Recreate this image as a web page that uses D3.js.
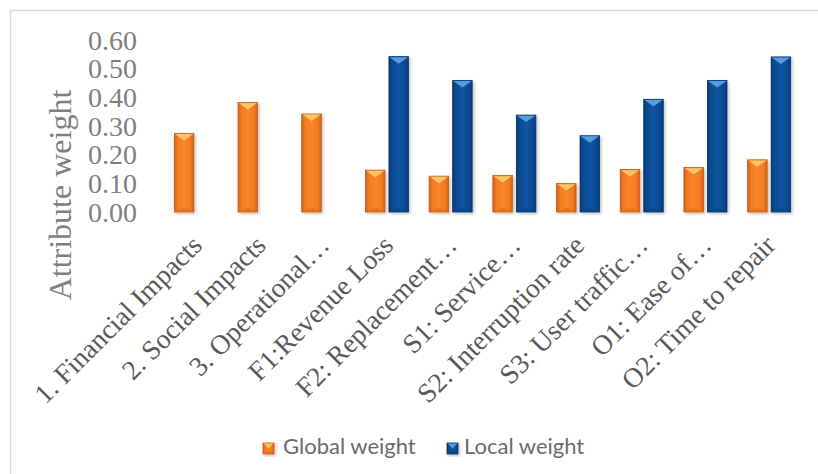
<!DOCTYPE html>
<html>
<head>
<meta charset="utf-8">
<script src="https://cdn.jsdelivr.net/npm/d3@7"></script>
<style>
  html, body { margin: 0; padding: 0; background: #fff; }
  svg { display: block; }
</style>
</head>
<body>
<svg id="chart" width="818" height="474"></svg>
<script>
// Attribute weights per criterion
const categories = [
  "1. Financial Impacts", "2. Social Impacts", "3. Operational…",
  "F1:Revenue Loss", "F2: Replacement…", "S1: Service…",
  "S2: Interruption rate", "S3: User traffic…", "O1: Ease of…",
  "O2: Time to repair"
];
const seriesNames = ["Global weight", "Local weight"];
const globalWeight = [0.274, 0.382, 0.342, 0.146, 0.125, 0.127, 0.099, 0.148, 0.155, 0.182];
const localWeight = [null, null, null, 0.542, 0.459, 0.338, 0.266, 0.393, 0.459, 0.541];
const yTicks = [0, 0.1, 0.2, 0.3, 0.4, 0.5, 0.6];

const svg = d3.select("#chart");
const W = 818, H = 474;
const serif = "'Liberation Serif', 'Times New Roman', Times, serif";

// chart frame
svg.append("rect")
  .attr("x", 10.5).attr("y", 10.5)
  .attr("width", W + 10).attr("height", H + 10)
  .attr("fill", "#fff").attr("stroke", "#d9d9d9").attr("stroke-width", 1.5);

const plot = { left: 164, right: 801, top: 40, bottom: 212 };

const x0 = d3.scaleBand().domain(categories).range([plot.left, plot.right]);
const x1 = d3.scaleBand().domain(seriesNames).range([0, x0.bandwidth()])
  .paddingInner(0.17).paddingOuter(0.44);
const y = d3.scaleLinear().domain([0, 0.6]).range([plot.bottom, plot.top]);

const defs = svg.append("defs");

const palettes = {
  "Global weight": { edge: "#d2621a", mid: "#f8862a", main: "#f47b20", tri: "#ffc36e", stroke: "#c65a14", foot: "#e06d1c" },
  "Local weight":  { edge: "#073a78", mid: "#0d55a3", main: "#0b4a92", tri: "#5a9ae0", stroke: "#06346a", foot: "#0a437f" }
};

Object.entries(palettes).forEach(([name, p], i) => {
  const g = defs.append("linearGradient").attr("id", "grad" + i)
    .attr("x1", "0%").attr("x2", "100%").attr("y1", "0%").attr("y2", "0%");
  g.append("stop").attr("offset", "0%").attr("stop-color", p.edge);
  g.append("stop").attr("offset", "18%").attr("stop-color", p.main);
  g.append("stop").attr("offset", "50%").attr("stop-color", p.mid);
  g.append("stop").attr("offset", "82%").attr("stop-color", p.main);
  g.append("stop").attr("offset", "100%").attr("stop-color", p.edge);
  p.fill = "url(#grad" + i + ")";
});

const shadow = defs.append("filter").attr("id", "shadow")
  .attr("x", "-30%").attr("y", "-10%").attr("width", "170%").attr("height", "130%");
shadow.append("feDropShadow").attr("dx", 1.5).attr("dy", 1.5)
  .attr("stdDeviation", 1.5).attr("flood-color", "#000").attr("flood-opacity", 0.25);

const lineShadow = defs.append("filter").attr("id", "lshadow")
  .attr("x", "0%").attr("y", "-200%").attr("width", "100%").attr("height", "500%");
lineShadow.append("feDropShadow").attr("dx", 0).attr("dy", 1)
  .attr("stdDeviation", 0.6).attr("flood-color", "#000").attr("flood-opacity", 0.15);

// gridlines
svg.append("g").selectAll("line").data(yTicks).join("line")
  .attr("x1", plot.left).attr("x2", plot.right)
  .attr("y1", d => Math.round(y(d)) + 0.5).attr("y2", d => Math.round(y(d)) + 0.5)
  .attr("stroke", "#d9d9d9")
  .attr("stroke-width", d => d === 0 ? 2 : 1.5)
  .attr("filter", "url(#lshadow)");

// y axis labels
const yAxis = d3.axisLeft(y).tickValues(yTicks).tickFormat(d3.format(".2f")).tickSize(0).tickPadding(0);
const yg = svg.append("g").attr("transform", "translate(137,0)").call(yAxis)
  .attr("font-family", serif).attr("font-size", 28);
yg.select(".domain").remove();
yg.selectAll("text")
  .style("font-family", serif)
  .attr("fill", "#808080").attr("dy", "0.33em");

// y axis title
svg.append("text")
  .attr("transform", "translate(71,195) rotate(-90)")
  .attr("text-anchor", "middle")
  .style("font-family", serif)
  .attr("font-size", 32).attr("fill", "#808080")
  .text("Attribute weight");

// bars with a bevelled top
function drawBar(g, bx, by, bw, bh, p) {
  g.append("rect").attr("x", bx).attr("y", by).attr("width", bw).attr("height", bh)
    .attr("fill", p.fill).attr("stroke", p.stroke).attr("stroke-width", 0.8)
    .attr("filter", "url(#shadow)");
  const th = Math.min(7, bh / 2);
  g.append("path")
    .attr("d", `M${bx + 0.6},${by + 0.6} L${bx + bw - 0.6},${by + 0.6} L${bx + bw / 2},${by + th} Z`)
    .attr("fill", p.tri);
  const fh = Math.min(4, bh / 3);
  g.append("path")
    .attr("d", `M${bx + 0.6},${by + bh - 0.4} L${bx + bw - 0.6},${by + bh - 0.4} L${bx + bw / 2},${by + bh - fh} Z`)
    .attr("fill", p.foot).attr("opacity", 0.8);
}

const barData = categories.map((c, i) => ({
  cat: c,
  values: [
    { s: "Global weight", v: globalWeight[i] },
    { s: "Local weight", v: localWeight[i] }
  ]
}));

const bars = svg.append("g");
barData.forEach(d => {
  d.values.forEach(e => {
    if (e.v == null) return;
    const bx = x0(d.cat) + x1(e.s);
    const by = y(e.v);
    drawBar(bars, bx, by, x1.bandwidth(), y(0) - by, palettes[e.s]);
  });
});

// category labels
const xAxis = d3.axisBottom(x0).tickSize(0).tickPadding(0);
const xg = svg.append("g").attr("transform", `translate(0,${plot.bottom})`).call(xAxis)
  .attr("font-family", serif).attr("font-size", 27.5);
xg.select(".domain").remove();
xg.selectAll("text")
  .style("font-family", serif)
  .attr("fill", "#595959")
  .attr("text-anchor", "end")
  .attr("y", 0).attr("dy", "0.35em")
  .attr("transform", "translate(1,28) rotate(-45)");

// legend
const legend = svg.append("g");
const legendItems = [
  { s: "Global weight", bx: 263, tx: 283 },
  { s: "Local weight", bx: 447, tx: 464 }
];
legendItems.forEach(it => {
  drawBar(legend, it.bx, 443, 11, 11, palettes[it.s]);
  legend.append("text")
    .attr("x", it.tx).attr("y", 454)
    .attr("font-family", "Lato, 'Open Sans', sans-serif")
    .attr("font-size", 22).attr("fill", "#6b6b6b")
    .text(it.s);
});
</script>
</body>
</html>
